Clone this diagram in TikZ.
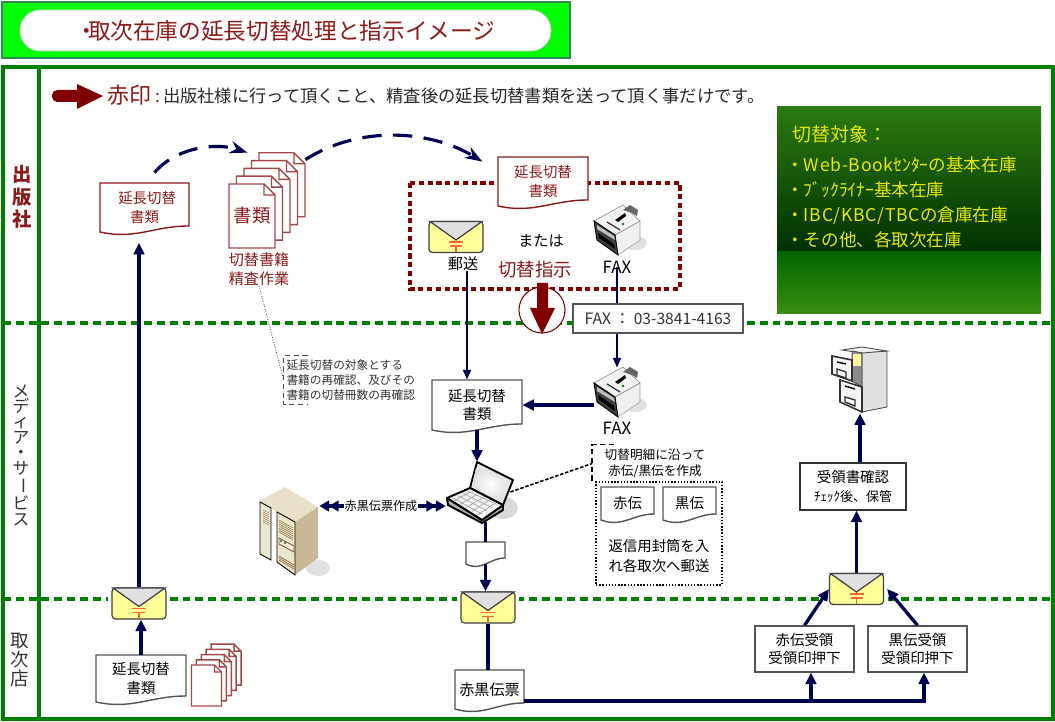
\documentclass[tikz,border=0pt]{standalone}
\usepackage{fontspec}
\setmainfont{Noto Sans CJK JP}
\usepackage{graphicx}
\usepackage{xcolor}
\usepackage{tikz}
\usetikzlibrary{positioning, arrows.meta, calc}

\definecolor{frameGreen}{HTML}{008000}
\definecolor{titleGreen}{HTML}{00FF00}
\definecolor{titleEdge}{HTML}{2E8B57}
\definecolor{lineNavy}{HTML}{000050}
\definecolor{markRed}{HTML}{800000}
\definecolor{docRed}{HTML}{8B1A1A}
\definecolor{boxGray}{HTML}{555555}
\definecolor{panelYellow}{HTML}{E6E600}
\definecolor{panelTop}{HTML}{2B7A10}
\definecolor{panelDark}{HTML}{003000}
\definecolor{panelMid}{HTML}{006600}
\definecolor{panelLow}{HTML}{3A8F10}
\definecolor{envYellow}{HTML}{FFFF99}
\definecolor{envMark}{HTML}{FF6633}
\definecolor{serverTop}{HTML}{E8E0C8}
\definecolor{serverSide}{HTML}{C9B896}
\definecolor{serverDoor}{HTML}{E8E8D0}

\newcommand{\pxfont}[2]{\fontsize{#1}{#2}\selectfont}

\tikzset{
    lanedash/.style={frameGreen, line width=2pt, dash pattern=on 4.5pt off 2.8pt},
    conn/.style={lineNavy, line width=1.9pt},
    connthin/.style={lineNavy, line width=1pt},
    tip/.style={-{Triangle[length=6.5pt, width=6pt]}},
    tipthin/.style={-{Triangle[length=5.5pt, width=4.5pt]}},
    curved/.style={lineNavy, line width=1.8pt, dash pattern=on 11pt off 6.5pt, -{Stealth[length=10pt, width=7pt]}},
    lane/.style={align=center, inner sep=0pt},
    doctxt/.style={align=center, inner sep=0pt, font=\pxfont{8.2}{10.4}},
    plainbox/.style={draw=boxGray, fill=white, line width=0.7pt, align=center, inner sep=0pt, font=\pxfont{8.2}{10.4}},
    hotspot/.style={inner sep=0pt},
    dotnote/.style={align=center, inner sep=0pt, font=\pxfont{7.2}{9}},
    panel/.style={anchor=west, inner sep=0pt, text=panelYellow, font=\pxfont{10}{12}}
}

% document sheet with a wavy lower edge
\newcommand{\docnode}[7]{
  \draw[draw=#1, fill=white, line width=0.8pt] (#3,#4) -- (#5,#4) -- (#5,#6)
    .. controls ({#5-0.4*(#5-#3)},#6) and ({#3+0.4*(#5-#3)},#6+14) .. (#3,#6+6) -- cycle;
  \node[doctxt, minimum width={(#5-#3)*0.02cm}, minimum height={(#6+6-#4)*0.02cm}] (#2) at ({(#3+#5)/2},{(#4+#6+6)/2}) {#7};
}
% pile of five sheets, front sheet first at (x,y)
\newcommand{\sheetpile}[7]{
  \foreach \i in {4,3,2,1,0}{
    \draw[draw=docRed!80, fill=white, line width=0.8pt]
      ({#1+\i*#5},{#2+\i*#6}) -- ({#1+\i*#5+#3-#7},{#2+\i*#6}) -- ({#1+\i*#5+#3},{#2+\i*#6+#7})
      -- ({#1+\i*#5+#3},{#2+\i*#6+#4}) -- ({#1+\i*#5},{#2+\i*#6+#4}) -- cycle
      ({#1+\i*#5+#3-#7},{#2+\i*#6}) -- ({#1+\i*#5+#3-#7},{#2+\i*#6+#7}) -- ({#1+\i*#5+#3},{#2+\i*#6+#7});
  }
}
% envelope with postal mark
\newcommand{\envelope}[3]{
  \begin{scope}[shift={(#2,#3)}]
    \fill[white] (-31,-18) rectangle (31,18);
    \node[draw=black!75, fill=envYellow, rounded corners=2pt, line width=0.7pt, inner sep=0pt, minimum width=1.08cm, minimum height=0.62cm] (#1) at (0,0) {};
    \draw[draw=black!75, fill=black!12, line width=0.7pt] (-26,-15.5) -- (26,-15.5) -- (0,3) -- cycle;
    \draw[envMark, line width=0.7pt] (-7,5) -- (7,5) (-6,9) -- (6,9) (0,9) -- (0,15);
  \end{scope}
}
% fax machine
\newcommand{\faxicon}[3]{
  \begin{scope}[shift={(#2,#3)}]
    \fill[black!12] (50,45) ellipse (12 and 7);
    \draw[black!40, fill=black!6, line width=0.3pt] (30,37) -- (55,23) -- (55,42) -- (33,57) -- cycle;
    \draw[black!50, fill=black!5, line width=0.3pt] (9,23) -- (38,7) -- (55,23) -- (30,37) -- cycle;
    \draw[black, fill=black!75, line width=0.5pt] (9,23) -- (30,37) -- (33,57) -- (12,42) -- cycle;
    \fill[black!25] (12,27) -- (29,38) -- (30,42) -- (12,31) -- cycle;
    \fill[black] (13,35) -- (29,46) -- (30,51) -- (14,40) -- cycle;
    \fill[black!60] (38,12) -- (45,7) -- (53,12) -- (52,18) -- (47,15) -- cycle;
    \fill[black] (30,22) -- (40,15) -- (41,18) -- (33,24) -- cycle;
    \draw[black!80, line width=0.7pt] (22,24) -- (35,32);
    \fill[green!50!black] (38,26) circle (1.3);
    \node[hotspot, minimum width=0.92cm, minimum height=0.96cm] (#1) at (32,32) {};
  \end{scope}
}
% notebook computer
\newcommand{\laptopicon}[3]{
  \begin{scope}[shift={(#2,#3)}]
    \fill[black!15] (63,53) ellipse (15 and 11);
    \draw[black, fill=black!10, line width=1.1pt, line join=round] (30,33) -- (37,7) -- (73,25) -- (63,50) -- cycle;
    \shade[inner color=white, outer color=blue!12!black!12] (36,13) -- (68,28) -- (60,45) -- (32,30) -- cycle;
    \draw[black, fill=black!30, line width=1.1pt, line join=round] (7,43) -- (8,50) -- (42,68) -- (63,55) -- (63,50) -- (42,65) -- cycle;
    \draw[black, fill=black!5, line width=1.1pt, line join=round] (7,43) -- (30,33) -- (63,50) -- (42,65) -- cycle;
    \foreach \k in {0,1,2,3}{
      \draw[black!35, line width=0.4pt] ({13+\k*5},{43-\k*2.3}) -- ({42+\k*5},{59-\k*3.2});
    }
    \foreach \k in {0,1,2,3,4}{
      \draw[black!35, line width=0.4pt] ({14+\k*6},{46+\k*3.4}) -- ({30+\k*6},{37+\k*3});
    }
    \node[hotspot, minimum width=1.28cm, minimum height=1.2cm] (#1) at (38,37) {};
  \end{scope}
}
% server cabinet
\newcommand{\servericon}[3]{
  \begin{scope}[shift={(#2,#3)}]
    \fill[black!12] (68,88) ellipse (12 and 8);
    \fill[serverTop] (9,21) -- (35,7) -- (68,27) -- (45,42) -- (27,32) -- cycle;
    \fill[serverSide] (45,42) -- (68,27) -- (68,78) -- (45,95) -- cycle;
    \draw[black, fill=serverDoor, line width=0.5pt] (10,22) -- (21,28) -- (21,80) -- (10,74) -- cycle;
    \draw[black, fill=serverDoor, line width=0.5pt] (27,32) -- (45,42) -- (45,95) -- (27,82) -- cycle;
    \foreach \k in {0,...,6}{
      \draw[brown!70!black, line width=0.25pt] (13,{30+\k*2}) -- (19,{33+\k*2});
      \draw[brown!70!black, line width=0.25pt] (29,{40+\k*2}) -- (43,{48+\k*2});
    }
    \draw[brown!70!black, line width=0.5pt, fill=brown!15] (29,58) -- (44,66) -- (44,72) -- (29,64) -- cycle;
    \fill[green!40!black] (31,61) circle (1.2) (35,63) circle (1.2);
    \foreach \k in {0,1,2}{
      \draw[brown!70!black, line width=0.35pt] (29,{76+\k*2}) -- (44,{85+\k*2});
    }
    \node[hotspot, minimum width=1.24cm, minimum height=1.76cm] (#1) at (38,51) {};
  \end{scope}
}
% filing cabinet with open drawer
\newcommand{\cabineticon}[3]{
  \begin{scope}[shift={(#2,#3)}]
    \draw[black!70, fill=black!12, line width=0.5pt] (37,8) -- (62,7) -- (62,63) -- (37,68) -- cycle;
    \draw[black!70, fill=black!5, line width=0.5pt] (17,6) -- (37,3) -- (62,7) -- (37,9) -- cycle;
    \draw[black!70, fill=black!45, line width=0.5pt] (27,7) -- (37,9) -- (37,43) -- (27,37) -- cycle;
    \fill[yellow!40] (28,10) rectangle (36,22);
    \draw[black!80, fill=black!4, line width=0.9pt] (15,36) -- (37,43) -- (37,68) -- (15,58) -- cycle;
    \draw[black!80, fill=white, line width=0.8pt] (20,53) -- (30,56) -- (30,62) -- (20,58) -- cycle;
    \draw[black, line width=0.8pt] (20,42) -- (30,45);
    \draw[black!80, fill=black!4, line width=0.9pt] (7,12) -- (27,16) -- (27,37) -- (7,30) -- cycle;
    \draw[black!80, fill=white, line width=0.8pt] (12,25) -- (21,28) -- (21,34) -- (12,31) -- cycle;
    \draw[black, line width=0.8pt] (12,18) -- (21,20);
    \node[hotspot, minimum width=1.1cm, minimum height=1.28cm] (#1) at (35,37) {};
  \end{scope}
}

\begin{document}
\begin{tikzpicture}[x=0.02cm, y=-0.02cm]
\useasboundingbox (0,0) rectangle (1055,722);

% Title bar
\draw[draw=titleEdge, fill=titleGreen, line width=1.5pt] (2,2) rectangle (570,58);
\node[draw=black!20, fill=white, rounded corners=0.4cm, minimum width=10.62cm, minimum height=0.82cm, inner sep=0pt, text=docRed, font=\pxfont{12.9}{15}] (titlebox) at (285.5,30.5) {・\hspace{-0.45em}取次在庫の延長切替処理と指示イメージ};

% Lanes
\draw[frameGreen, line width=2.2pt] (3,67) rectangle (1053,719);
\draw[frameGreen, line width=2.2pt] (39,67) -- (39,719);
\draw[lanedash] (3,323) -- (1053,323);
\draw[lanedash] (3,599) -- (1053,599);
\node[lane, text=docRed, font=\bfseries\pxfont{11}{12.8}] (lanepub) at (22,197) {出\\版\\社};
\node[lane, text=black!80, font=\pxfont{9.5}{8.75}] (lanemedia) at (21,455) {メ\\デ\\ィ\\ア\\・\\サ\\\rotatebox[origin=c]{-90}{ー}\\ビ\\ス};
\node[lane, text=black!80, font=\pxfont{10.5}{10.6}] (lanedist) at (20,660) {取\\次\\店};

% Legend line
\fill[markRed, rounded corners=3pt] (52,90) -- (82,90) -- (82,102) -- (52,102) -- cycle;
\fill[markRed] (77,84) -- (103,96) -- (77,109) -- cycle;
\node[anchor=west, inner sep=0pt, text=docRed, font=\pxfont{12.5}{15}] (legendmark) at (107,95) {赤印};
\node[anchor=west, inner sep=0pt, text=black!85, font=\pxfont{9.85}{12}] (legendtext) at (155,96) {\textcolor{docRed}{:}\,出版社様に行って頂くこと、精査後の延長切替書類を送って頂く事だけです。};

% Target panel
\shade[top color=panelTop, bottom color=panelDark] (777,107) rectangle (1041,252);
\shade[top color=panelMid, bottom color=panelLow] (777,252) rectangle (1041,314);
\node[panel, font=\pxfont{10.8}{13}] (paneltitle) at (792,134) {切替対象：};
\node[panel] (panelone) at (786,165) {・{\addfontfeature{LetterSpace=4}Web-Book}ｾﾝﾀｰの基本在庫};
\node[panel] (paneltwo) at (786,190) {・ﾌﾞｯｸﾗｲﾅｰ基本在庫};
\node[panel] (panelthree) at (786,216) {・{\addfontfeature{LetterSpace=4}IBC/KBC/TBC}の倉庫在庫};
\node[panel] (panelfour) at (786,240) {・その他、各取次在庫};

% Publisher lane
\docnode{docRed}{docpub}{100}{183}{189}{226}{\textcolor{docRed}{\hspace{3pt}延長切替}\\\textcolor{docRed}{書類}}
\sheetpile{229}{184}{46}{64}{7.5}{-7.8}{11}
\node[hotspot, minimum width=1.5cm, minimum height=1.9cm] (pile) at (266.5,200.5) {};
\node[inner sep=0pt, text=docRed, font=\pxfont{10.5}{12}] (piletxt) at (252,216) {書類};
\node[inner sep=0pt, align=center, text=docRed, font=\pxfont{8.6}{10.9}] (pilelabel) at (259,269) {切替書籍\\精査作業};
\draw[curved] ($(docpub.north)+(10,-10)$) .. controls (175,148) and (215,142) .. ($(pile.north)+(-19,0)$);
\draw[curved] ($(pile.north east)+(1,7)$) .. controls (360,125) and (430,130) .. ($(docpub.north)+(338,-21)$);

\draw[markRed, line width=2pt, dash pattern=on 3pt off 2pt] (410,183) rectangle (680,289);
\docnode{docRed}{docorder}{498}{157}{588}{200}{\textcolor{docRed}{延長切替}\\\textcolor{docRed}{書類}}
\envelope{envmail}{456}{237}
\node[inner sep=0pt, font=\pxfont{8.6}{10}] (mailtxt) at (463,264) {郵送};
\node[inner sep=0pt, font=\pxfont{8.6}{10}] (ortxt) at (541,241) {または};
\node[inner sep=0pt, text=docRed, font=\pxfont{10.5}{12}] (ordertxt) at (535,270) {切替指示};
\faxicon{faxpub}{585}{198}
\node[inner sep=0pt, font=\pxfont{9.6}{10}] (faxpubtxt) at (617,267) {FAX};

% Media lane
\draw[markRed, fill=white, line width=0.6pt] (542,310) circle (23);
\fill[markRed] (537,283) -- (548,283) -- (548,308) -- (555,308) -- (542,334) -- (530,308) -- (537,308) -- cycle;

\docnode{boxGray}{docmedia}{432}{380}{522}{424}{延長切替\\書類}
\faxicon{faxmedia}{585}{360}
\node[inner sep=0pt, font=\pxfont{9.6}{10}] (faxmediatxt) at (617,428) {FAX};
\draw[connthin, tipthin] (faxpubtxt.center) -- (faxpubtxt.center |- faxmedia.north);
\node[plainbox, minimum width=3.4cm, minimum height=0.58cm, text=black!80, font=\pxfont{8.9}{10.4}] (faxnumber) at (658,318.5) {FAX ： 03-3841-4163};
\draw[connthin, tipthin] (mailtxt.south) ++(4,0) -- ($(docmedia.north)+(-10,0)$);
\draw[conn, tip] (faxmedia.west |- docmedia.east) -- (docmedia.east);

\laptopicon{laptop}{440}{455}
\draw[conn, tip] (docmedia.south) -- (docmedia.south |- laptop.north);
\servericon{server}{250}{480}
\node[inner sep=0pt, font=\pxfont{6.9}{9}] (slipmake) at (381,506) {赤黒伝票作成};
\draw[conn, -{Triangle[length=5.5pt, width=6pt]Triangle[length=5.5pt, width=6pt]}] (slipmake.west) -- (slipmake.west -| server.east);
\draw[conn, -{Triangle[length=5.5pt, width=6pt]Triangle[length=5.5pt, width=6pt]}] (slipmake.east) -- (slipmake.east -| laptop.west);

\node[inner sep=0pt, minimum width=2.72cm, minimum height=0.98cm, align=left, text=black!80, text width=2.62cm, font=\pxfont{6.65}{8.5}] (recheck) at (352,380) {延長切替の対象とする\\書籍の再確認、及びその\\書籍の切替冊数の再確認};
\draw[black!70, line width=0.6pt, densely dashed] ($(recheck.north west)+(24,0)$) -- (recheck.north west) -- (recheck.south west) -- ($(recheck.south west)+(24,0)$);
\draw[black!70, line width=0.5pt, densely dotted] (pilelabel.south) -- (recheck.west);

\node[dotnote, minimum width=2.5cm, minimum height=0.74cm] (memo) at (655,463.5) {切替明細に沿って\\赤伝/黒伝を作成};
\draw[black, line width=0.8pt, densely dashed] ($(memo.north west)+(22,0)$) -- (memo.north west) -- (memo.south west);
\draw[black, line width=0.9pt, dash pattern=on 2pt off 1pt] (laptop.east) -- (memo.west);
\node[draw=black, line width=0.8pt, densely dotted, minimum width=2.52cm, minimum height=2.06cm, inner sep=0pt] (mailbox) at (659,533.5) {};
\docnode{boxGray}{slipred}{601}{487}{654}{514}{赤伝}
\docnode{boxGray}{slipblack}{663}{487}{716}{514}{黒伝}
\node[inner sep=0pt, align=center, font=\pxfont{8.2}{10.9}] (mailnote) at (659,556) {返信用封筒を入\\れ各取次へ郵送};

\docnode{boxGray}{docblank}{466}{542}{505}{558}{}
\draw[conn] (docblank.north |- laptop.south) -- (docblank.north);
\envelope{envmedia}{488}{607.5}
\draw[conn, tip] (docblank.south) -- (docblank.south |- envmedia.north);

% Distributor lane
\envelope{envdist}{139}{603.5}
\docnode{boxGray}{docdist}{96}{655}{186}{696}{延長切替\\書類}
\draw[conn, tip] (docdist.north) -- (docdist.north |- envdist.south);
\draw[conn, tip, shorten >=6pt] (envdist.north) -- (envdist.north |- docpub.south);
\sheetpile{191.5}{665}{30}{41}{4.9}{-5.2}{7}
\docnode{boxGray}{docslip}{455}{670}{524}{703}{\pxfont{8.6}{10}赤黒伝票}
\draw[conn] (envmedia.south) -- (envmedia.south |- docslip.north);

% Receipt handling
\node[plainbox, minimum width=1.98cm, minimum height=0.92cm] (boxred) at (804.5,649) {赤伝受領\\受領印押下};
\node[plainbox, minimum width=1.98cm, minimum height=0.92cm] (boxblack) at (917.5,649) {黒伝受領\\受領印押下};
\envelope{envback}{856.5}{589}
\node[plainbox, draw=black!80, minimum width=2.12cm, minimum height=0.94cm] (boxcheck) at (853,486.5) {受領書確認\\\pxfont{7.4}{10.4}ﾁｪｯｸ後、保管};
\cabineticon{cabinet}{825}{344}
\coordinate (busstart) at ($(docslip.east)+(0,11.5)$);
\draw[conn, tip] (busstart) -| ($(boxblack.south)+(6.5,0)$);
\draw[conn, tip] (busstart -| boxred.south) ++(6.5,0) -- ($(boxred.south)+(6.5,0)$);
\draw[conn, tip] (boxred.north) -- (envback.west);
\draw[conn, tip] (boxblack.north) -- ($(envback.east)+(3,0)$);
\draw[conn, tip] (envback.north) -- (envback.north |- boxcheck.south);
\draw[conn, tip] (cabinet.south |- boxcheck.north) -- (cabinet.south);

\end{tikzpicture}
\end{document}
